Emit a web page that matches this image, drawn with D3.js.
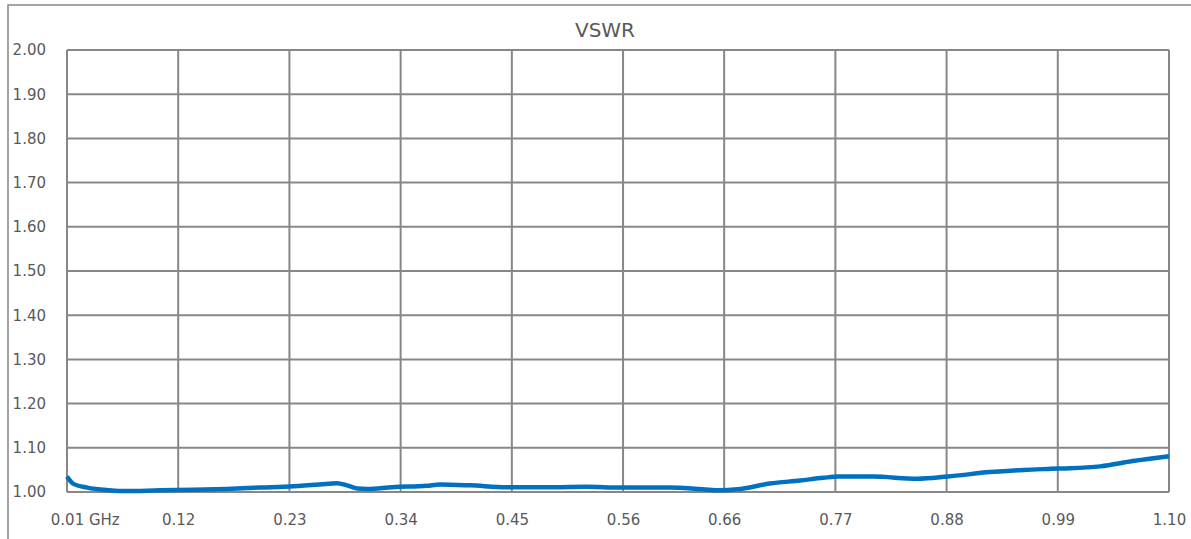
<!DOCTYPE html>
<html>
<head>
  <meta charset="utf-8">
  <title>VSWR</title>
  <script src="https://d3js.org/d3.v7.min.js"></script>
  <style>
    html, body {
      margin: 0;
      background: #fff;
    }
    svg {
      display: block;
    }
    .tick text, .title {
      font-family: "DejaVu Sans", sans-serif;
      fill: #595959;
    }
  </style>
</head>
<body>
  <svg id="chart" width="1191" height="539"></svg>
  <script>
  // frequency in GHz
  const freq = [0.010, 0.016, 0.030, 0.052, 0.069, 0.102, 0.135, 0.168, 0.201, 0.234,
                0.260, 0.277, 0.287, 0.297, 0.307, 0.332, 0.366, 0.379, 0.409, 0.445,
                0.491, 0.524, 0.557, 0.606, 0.639, 0.656, 0.673, 0.705, 0.735, 0.758,
                0.773, 0.807, 0.851, 0.881, 0.923, 0.956, 0.990, 1.032, 1.064, 1.100];
  const vswr = [1.035, 1.019, 1.010, 1.004, 1.002, 1.004, 1.005, 1.007, 1.010, 1.013,
                1.017, 1.020, 1.015, 1.008, 1.007, 1.011, 1.014, 1.017, 1.015, 1.011,
                1.011, 1.012, 1.010, 1.010, 1.006, 1.004, 1.006, 1.019, 1.026, 1.032,
                1.035, 1.035, 1.030, 1.035, 1.045, 1.050, 1.053, 1.058, 1.070, 1.081];
  const xTicks = [0.01, 0.12, 0.23, 0.34, 0.45, 0.56, 0.66, 0.77, 0.88, 0.99, 1.10];
  const yTicks = [1.00, 1.10, 1.20, 1.30, 1.40, 1.50, 1.60, 1.70, 1.80, 1.90, 2.00];

  const svg = d3.select("#chart");
  const grid = "#878787";

  // outer chart frame, runs off the right and bottom edges
  svg.append("rect")
    .attr("x", 8).attr("y", 5)
    .attr("width", 1300).attr("height", 600)
    .attr("fill", "none")
    .attr("stroke", grid)
    .attr("stroke-width", 1.5);

  const x = d3.scaleLinear().domain([0.01, 1.10]).range([67, 1169]);
  const y = d3.scaleLinear().domain([1, 2]).range([492, 50]);

  // gridlines
  const g = svg.append("g");
  g.selectAll("line.v")
    .data(xTicks)
    .join("line")
    .attr("x1", d => x(d)).attr("x2", d => x(d))
    .attr("y1", y(2)).attr("y2", y(1))
    .attr("stroke", grid).attr("stroke-width", 2);
  g.selectAll("line.h")
    .data(yTicks)
    .join("line")
    .attr("x1", x(0.01)).attr("x2", x(1.10))
    .attr("y1", d => y(d)).attr("y2", d => y(d))
    .attr("stroke", grid).attr("stroke-width", 2);

  // axes (labels only)
  const yAxis = svg.append("g")
    .attr("transform", `translate(${x(0.01)},0)`)
    .call(d3.axisLeft(y).tickValues(yTicks).tickSize(0).tickPadding(21).tickFormat(d => d.toFixed(2)));
  yAxis.select(".domain").remove();
  yAxis.selectAll("text").attr("font-size", 15);

  const xAxis = svg.append("g")
    .attr("transform", `translate(0,${y(1)})`)
    .call(d3.axisBottom(x).tickValues(xTicks).tickSize(0).tickPadding(22)
      .tickFormat((d, i) => i === 0 ? d.toFixed(2) + " GHz" : d.toFixed(2)));
  xAxis.select(".domain").remove();
  xAxis.selectAll("text").attr("font-size", 15);

  // keep "0.01" centred on its gridline, let " GHz" trail to the right
  xAxis.selectAll("text").filter((d, i) => i === 0).each(function() {
    const half = this.getSubStringLength(0, 4) / 2;
    d3.select(this).attr("text-anchor", "start").attr("x", -half);
  });

  // title
  svg.append("text")
    .attr("class", "title")
    .attr("x", 605).attr("y", 37)
    .attr("text-anchor", "middle")
    .attr("font-size", 20)
    .text("VSWR");

  // trace
  const line = d3.line()
    .x((d, i) => x(freq[i]))
    .y(d => y(d))
    .curve(d3.curveMonotoneX);

  svg.append("path")
    .datum(vswr)
    .attr("fill", "none")
    .attr("stroke", "#0070C0")
    .attr("stroke-width", 4.5)
    .attr("stroke-linejoin", "round")
    .attr("d", line);
  </script>
</body>
</html>
